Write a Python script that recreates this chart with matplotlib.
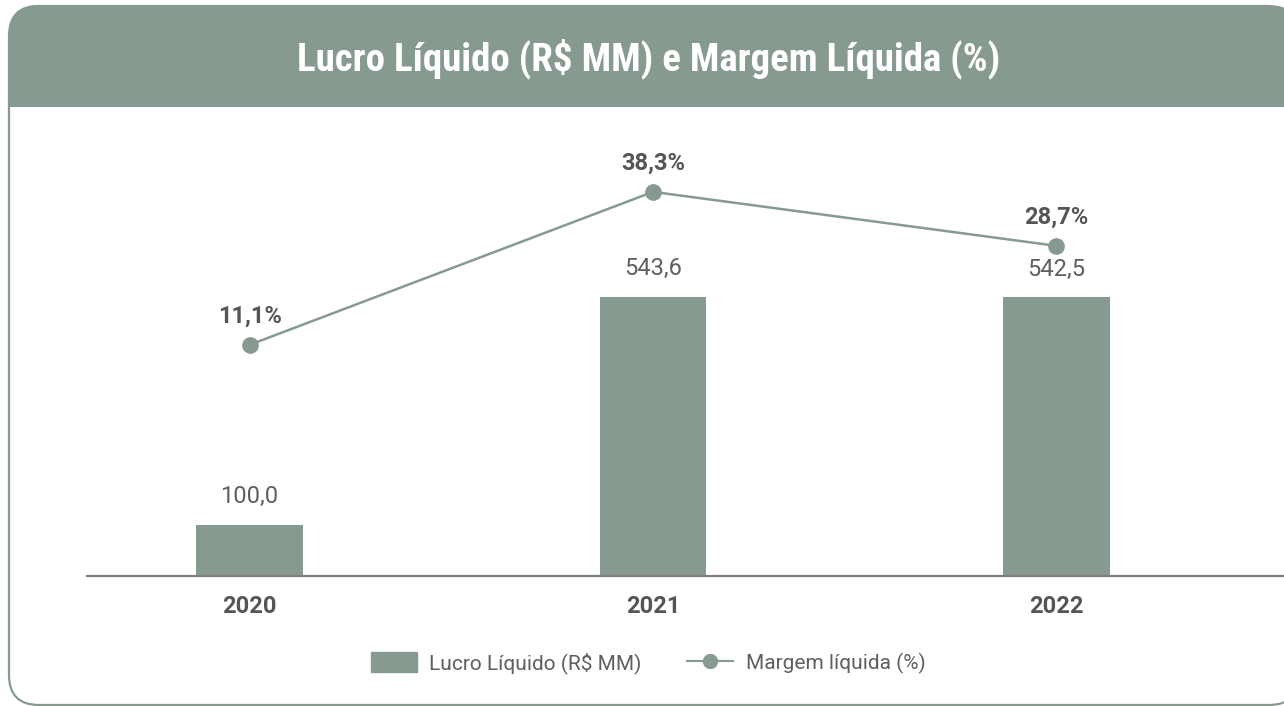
import matplotlib
matplotlib.use("Agg")
import matplotlib.pyplot as plt
from matplotlib import font_manager
from matplotlib.lines import Line2D
from matplotlib.patches import FancyBboxPatch, Rectangle, Patch

years = ["2020", "2021", "2022"]
lucro = [100.0, 543.6, 542.5]
margem = [11.1, 38.3, 28.7]

GREEN = "#879a8f"
TXT = "#555555"
LIGHT_TXT = "#5f5f5f"

names = {f.name for f in font_manager.fontManager.ttflist}
cond = next((n for n in ["Liberation Sans Narrow", "DejaVu Sans Condensed", "Roboto Condensed"]
             if n in names), "Roboto")
base = "Roboto" if "Roboto" in names else "DejaVu Sans"

def br(v, pct=False):
    s = f"{v:.1f}".replace(".", ",")
    return s + "%" if pct else s

fig = plt.figure(figsize=(12.84, 7.06), dpi=100)
W, H = 12.84, 7.06
tr = fig.dpi_scale_trans

# outer card
r = 0.30
card_x, card_y, card_w, card_h = 0.09 + r, 0.01 + r, 12.9 - 2 * r, 6.99 - 2 * r
fig.patches.append(FancyBboxPatch((card_x, card_y), card_w, card_h,
                                  boxstyle=f"round,pad={r}", transform=tr,
                                  fc="white", ec="none", zorder=0))
# header band: rounded top, square bottom
hdr_bottom = H - 1.07
fig.patches.append(FancyBboxPatch((card_x, hdr_bottom + r), card_w, H - 0.05 - 2 * r - hdr_bottom,
                                  boxstyle=f"round,pad={r}", transform=tr,
                                  fc=GREEN, ec="none", zorder=1))
fig.patches.append(Rectangle((0.09, hdr_bottom), 12.9, r + 0.05,
                             transform=tr, fc=GREEN, ec="none", zorder=1))
fig.patches.append(FancyBboxPatch((card_x, card_y), card_w, card_h,
                                  boxstyle=f"round,pad={r}", transform=tr,
                                  fc="none", ec=GREEN, lw=1.6, zorder=3))

fig.text(0.505, 0.917, "Lucro Líquido (R$ MM) e Margem Líquida (%)",
         ha="center", va="center", color="white", fontsize=28,
         fontweight="bold", family=cond, zorder=5)

ax = fig.add_axes([87 / 1284, 1 - 576 / 706, (1284 - 87) / 1284, (576 - 130) / 706])
ax.set_zorder(4)
ax.patch.set_alpha(0)
x = range(len(years))
bars = ax.bar(x, lucro, width=0.265, color=GREEN, zorder=2)
ax.bar_label(bars, labels=[br(v) for v in lucro], padding=12,
             fontsize=17, color=LIGHT_TXT, family=base)
ax.set_xlim(-0.403, 2.564)
ax.set_ylim(0, 868)
ax.set_xticks(list(x))
ax.set_xticklabels(years, fontsize=17, fontweight="bold", color=TXT, family=base)
ax.tick_params(axis="x", length=0, pad=14)
ax.set_yticks([])
for s in ["top", "right", "left"]:
    ax.spines[s].set_visible(False)
ax.spines["bottom"].set_color("#808080")
ax.spines["bottom"].set_linewidth(1.6)

ax2 = ax.twinx()
ax2.plot(x, margem, color=GREEN, lw=1.8, marker="o", ms=11, zorder=3)
for xi, v in zip(x, margem):
    ax2.annotate(br(v, True), (xi, v), xytext=(0, 12), textcoords="offset points",
                 ha="center", va="bottom", fontsize=17, fontweight="bold",
                 color=TXT, family=base)
ax2.set_ylim(-30, 49.3)
ax2.set_yticks([])
for s in ax2.spines.values():
    s.set_visible(False)

handles = [Patch(color=GREEN),
           Line2D([], [], color=GREEN, lw=1.5, marker="o", ms=10)]
leg = fig.legend(handles, ["Lucro Líquido (R$ MM)", "Margem líquida (%)"],
                 loc="center", bbox_to_anchor=(648 / 1284, 1 - 663 / 706), ncol=2,
                 frameon=False, handlelength=2.2, handleheight=1.1,
                 columnspacing=2.2, handletextpad=0.6,
                 prop={"family": base, "size": 15})
for t in leg.get_texts():
    t.set_color(LIGHT_TXT)

fig.savefig("out.png", dpi=100)
